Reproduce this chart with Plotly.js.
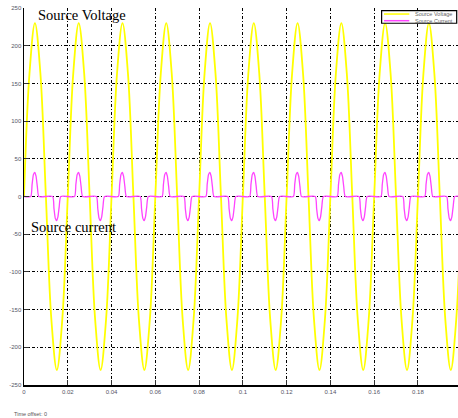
<!DOCTYPE html>
<html>
<head>
<meta charset="utf-8">
<script src="https://cdn.plot.ly/plotly-3.0.1.min.js"></script>
<style>
html,body{margin:0;padding:0;background:#fff;}
#chart{width:458px;height:418px;}
</style>
</head>
<body>
<div id="chart"></div>
<script>
// Source voltage samples (time in s, value in V)
const voltTime = [
  0,0.0025,0.005,0.0075,0.01,0.0125,0.015,0.0175,
  0.02,0.0225,0.025,0.0275,0.03,0.0325,0.035,0.0375,
  0.04,0.0425,0.045,0.0475,0.05,0.0525,0.055,0.0575,
  0.06,0.0625,0.065,0.0675,0.07,0.0725,0.075,0.0775,
  0.08,0.0825,0.085,0.0875,0.09,0.0925,0.095,0.0975,
  0.1,0.1025,0.105,0.1075,0.11,0.1125,0.115,0.1175,
  0.12,0.1225,0.125,0.1275,0.13,0.1325,0.135,0.1375,
  0.14,0.1425,0.145,0.1475,0.15,0.1525,0.155,0.1575,
  0.16,0.1625,0.165,0.1675,0.17,0.1725,0.175,0.1775,
  0.18,0.1825,0.185,0.1875,0.19,0.1925,0.195,0.1975,
  0.2
];
const voltValue = [
  0,163,230,163,0,-163,-230,-163,
  0,163,230,163,0,-163,-230,-163,
  0,163,230,163,0,-163,-230,-163,
  0,163,230,163,0,-163,-230,-163,
  0,163,230,163,0,-163,-230,-163,
  0,163,230,163,0,-163,-230,-163,
  0,163,230,163,0,-163,-230,-163,
  0,163,230,163,0,-163,-230,-163,
  0,163,230,163,0,-163,-230,-163,
  0,163,230,163,0,-163,-230,-163,
  0
];

// Source current samples (time in s, value in A)
const curTime = [
  0,
  0.0031,0.0037,0.0043,0.0049,0.0055,0.0061,0.0068,
  0.0131,0.0137,0.0143,0.0149,0.0155,0.0161,0.0168,
  0.0231,0.0237,0.0243,0.0249,0.0255,0.0261,0.0268,
  0.0331,0.0337,0.0343,0.0349,0.0355,0.0361,0.0368,
  0.0431,0.0437,0.0443,0.0449,0.0455,0.0461,0.0468,
  0.0531,0.0537,0.0543,0.0549,0.0555,0.0561,0.0568,
  0.0631,0.0637,0.0643,0.0649,0.0655,0.0661,0.0668,
  0.0731,0.0737,0.0743,0.0749,0.0755,0.0761,0.0768,
  0.0831,0.0837,0.0843,0.0849,0.0855,0.0861,0.0868,
  0.0931,0.0937,0.0943,0.0949,0.0955,0.0961,0.0968,
  0.1031,0.1037,0.1043,0.1049,0.1055,0.1061,0.1068,
  0.1131,0.1137,0.1143,0.1149,0.1155,0.1161,0.1168,
  0.1231,0.1237,0.1243,0.1249,0.1255,0.1261,0.1268,
  0.1331,0.1337,0.1343,0.1349,0.1355,0.1361,0.1368,
  0.1431,0.1437,0.1443,0.1449,0.1455,0.1461,0.1468,
  0.1531,0.1537,0.1543,0.1549,0.1555,0.1561,0.1568,
  0.1631,0.1637,0.1643,0.1649,0.1655,0.1661,0.1668,
  0.1731,0.1737,0.1743,0.1749,0.1755,0.1761,0.1768,
  0.1831,0.1837,0.1843,0.1849,0.1855,0.1861,0.1868,
  0.1931,0.1937,0.1943,0.1949,0.1955,0.1961,0.1968,
  0.2
];
const curValue = [
  0,
  0,16,29,32,27,13,0,
  0,-16,-29,-32,-27,-13,0,
  0,16,29,32,27,13,0,
  0,-16,-29,-32,-27,-13,0,
  0,16,29,32,27,13,0,
  0,-16,-29,-32,-27,-13,0,
  0,16,29,32,27,13,0,
  0,-16,-29,-32,-27,-13,0,
  0,16,29,32,27,13,0,
  0,-16,-29,-32,-27,-13,0,
  0,16,29,32,27,13,0,
  0,-16,-29,-32,-27,-13,0,
  0,16,29,32,27,13,0,
  0,-16,-29,-32,-27,-13,0,
  0,16,29,32,27,13,0,
  0,-16,-29,-32,-27,-13,0,
  0,16,29,32,27,13,0,
  0,-16,-29,-32,-27,-13,0,
  0,16,29,32,27,13,0,
  0,-16,-29,-32,-27,-13,0,
  0
];

const xTickVals = [0,0.02,0.04,0.06,0.08,0.1,0.12,0.14,0.16,0.18];
const xTickText = ['0','0.02','0.04','0.06','0.08','0.1','0.12','0.14','0.16','0.18'];
const yTickVals = [-250,-200,-150,-100,-50,0,50,100,150,200,250];
const yTickText = ['-250','-200','-150','-100','-50','0','50','100','150','200','250'];

const traces = [
  {x: voltTime, y: voltValue, type: 'scatter', mode: 'lines', name: 'Source Voltage',
   line: {color: '#ffff00', width: 1.8, shape: 'spline', smoothing: 1}},
  {x: curTime, y: curValue, type: 'scatter', mode: 'lines', name: 'Source Current',
   line: {color: '#ff44ff', width: 1.3, shape: 'spline', smoothing: 0.5}}
];

const axisCommon = {
  showgrid: true, gridcolor: '#000', gridwidth: 1, griddash: '3px,2px,1px,2px',
  showline: true, linecolor: '#000', linewidth: 1.5,
  zeroline: false, ticks: 'inside', ticklen: 5, tickcolor: '#333',
  tickfont: {family: 'Liberation Sans, Arial, sans-serif', size: 6, color: '#556'},
  tickmode: 'array'
};

const layout = {
  width: 458, height: 418,
  margin: {l: 24, r: 0, t: 8, b: 33},
  paper_bgcolor: '#fff', plot_bgcolor: '#fff',
  showlegend: false,
  xaxis: Object.assign({}, axisCommon, {range: [0, 0.1983], tickvals: xTickVals, ticktext: xTickText}),
  yaxis: Object.assign({}, axisCommon, {range: [-250, 250], tickvals: yTickVals, ticktext: yTickText}),
  shapes: [
    {type: 'rect', xref: 'paper', yref: 'paper', x0: 0.824, x1: 0.997, y0: 0.9595, y1: 0.993,
     line: {color: '#000', width: 1.2}, fillcolor: '#fff', layer: 'above'},
    {type: 'line', xref: 'paper', yref: 'paper', x0: 0.8295, x1: 0.8878, y0: 0.984, y1: 0.984,
     line: {color: '#ffff00', width: 1.5}, layer: 'above'},
    {type: 'line', xref: 'paper', yref: 'paper', x0: 0.8295, x1: 0.8878, y0: 0.9663, y1: 0.9663,
     line: {color: '#ff44ff', width: 1.5}, layer: 'above'}
  ],
  annotations: [
    {text: 'Source Voltage', xref: 'paper', yref: 'paper', x: 0.0276, y: 0.981,
     xanchor: 'left', yanchor: 'middle', showarrow: false,
     font: {family: 'Liberation Serif, Times New Roman, serif', size: 14.5, color: '#000'}},
    {text: 'Source current', xref: 'paper', yref: 'paper', x: 0.0115, y: 0.419,
     xanchor: 'left', yanchor: 'middle', showarrow: false,
     font: {family: 'Liberation Serif, Times New Roman, serif', size: 14.5, color: '#000'}},
    {text: 'Source Voltage', xref: 'paper', yref: 'paper', x: 0.8956, y: 0.984,
     xanchor: 'left', yanchor: 'middle', showarrow: false,
     font: {family: 'Liberation Sans, Arial, sans-serif', size: 5.5, color: '#666'}},
    {text: 'Source Current', xref: 'paper', yref: 'paper', x: 0.8956, y: 0.9663,
     xanchor: 'left', yanchor: 'middle', showarrow: false,
     font: {family: 'Liberation Sans, Arial, sans-serif', size: 5.5, color: '#666'}},
    {text: 'Time offset: 0', xref: 'paper', yref: 'paper', x: -0.0276, y: -0.077,
     xanchor: 'left', yanchor: 'middle', showarrow: false,
     font: {family: 'Liberation Sans, Arial, sans-serif', size: 5.5, color: '#555'}}
  ]
};

Plotly.newPlot('chart', traces, layout, {staticPlot: true, displayModeBar: false});
</script>
</body>
</html>
